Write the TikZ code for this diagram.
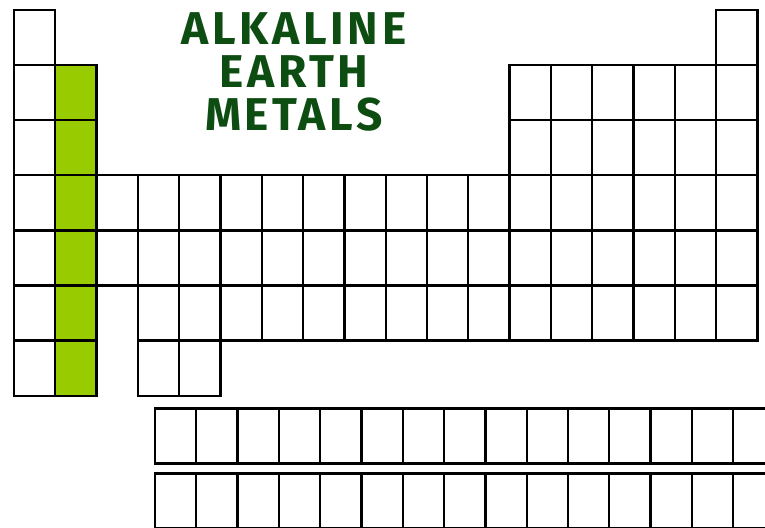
\documentclass[tikz,border=0pt]{standalone}
\usepackage{fontspec}
\newfontfamily\titlefont[LetterSpace=8]{Fira Sans}
\usepackage{xcolor}
\usepackage{tikz}
\usetikzlibrary{positioning}

\definecolor{groupgreen}{HTML}{99CC00}
\definecolor{titlegreen}{HTML}{0E4D12}

\begin{document}
\begin{tikzpicture}[
    x=1pt,y=-1pt,
    cell/.style={draw=black, line width=2.3pt, fill=white, minimum width=41.3pt, minimum height=55.1pt, inner sep=0pt, outer sep=0pt},
    alkcell/.style={cell, fill=groupgreen},
    title/.style={text=titlegreen, align=center, font=\titlefont\bfseries\fontsize{46}{43}\selectfont, inner sep=0pt}
  ]
    \clip (0,0) rectangle (765,527);
    \fill[white] (0,0) rectangle (765,527);

    % main block
    \foreach \c in {1,18}
      \node[cell] (p1-\c) at ({14+41.3*(\c-0.5)},{10+55.1*0.5}) {};
    \foreach \r in {2,3}
      \foreach \c in {1,13,14,15,16,17,18}
        \node[cell] (p\r-\c) at ({14+41.3*(\c-0.5)},{10+55.1*(\r-0.5)}) {};
    \foreach \r in {4,5}
      \foreach \c in {1,3,4,...,18}
        \node[cell] (p\r-\c) at ({14+41.3*(\c-0.5)},{10+55.1*(\r-0.5)}) {};
    \foreach \c in {1,4,5,...,18}
      \node[cell] (p6-\c) at ({14+41.3*(\c-0.5)},{10+55.1*5.5}) {};
    \foreach \c in {1,4,5}
      \node[cell] (p7-\c) at ({14+41.3*(\c-0.5)},{10+55.1*6.5}) {};

    % group 2
    \foreach \r in {2,...,7}
      \node[alkcell] (p\r-2) at ({14+41.3*1.5},{10+55.1*(\r-0.5)}) {};

    % f-block
    \foreach \c in {1,...,15}{
      \node[cell] (la-\c) at ({155+41.3*(\c-0.5)},436) {};
      \node[cell] (ac-\c) at ({155+41.3*(\c-0.5)},501) {};
    }

    \node[title] (name) at (294,72) {ALKALINE\\EARTH\\METALS};
  \end{tikzpicture}
\end{document}
